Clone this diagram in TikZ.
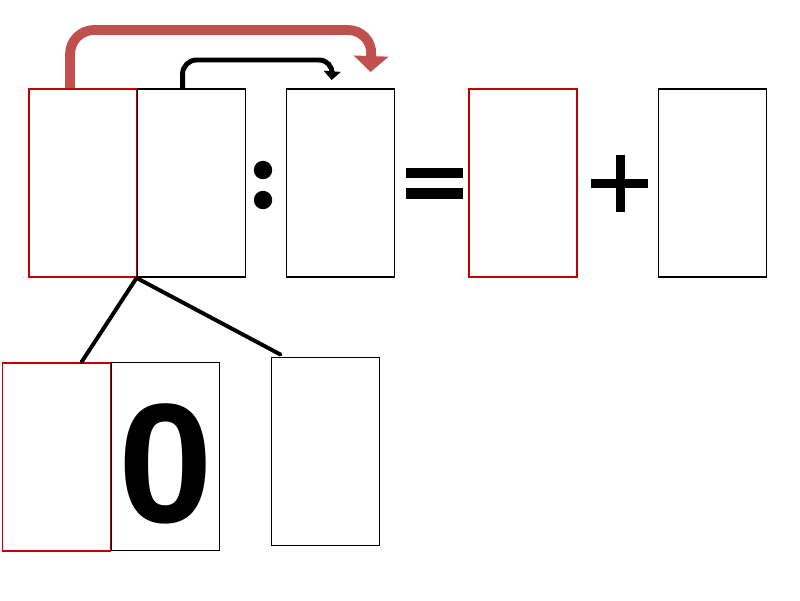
\documentclass[tikz,border=0pt]{standalone}
\usepackage{fontspec}
\setmainfont{Liberation Sans}
\usepackage{tikz}
\usetikzlibrary{arrows.meta,positioning,calc}
\usepackage{xcolor}
\definecolor{boxred}{RGB}{192,0,0}
\definecolor{arrowred}{RGB}{192,80,77}

\begin{document}
\begin{tikzpicture}[x=0.025cm, y=-0.025cm,
    digitbox/.style={draw, line width=1.3pt, minimum width=2.7cm, minimum height=4.7cm, inner sep=0pt},
    redbox/.style={digitbox, draw=boxred},
    branch/.style={line width=2.8pt, line cap=round}]
    \useasboundingbox (0,0) rectangle (800,600);

    % --- Top row: division ---
    \node[redbox]   (A) at (83,183) {};
    \node[digitbox] (B) at (191.5,183) {};
    \node[digitbox] (C) at (340.5,183) {};
    \node[redbox]   (D) at (523,183) {};
    \node[digitbox] (E) at (712.5,183) {};
    % colon
    \fill (263,170) circle (0.23cm);
    \fill (263,200) circle (0.23cm);
    % equals
    \fill (406,168) rectangle (463,178);
    \fill (406,188) rectangle (463,199);
    % plus
    \fill (591,178.5) rectangle (648,187.5);
    \fill (615.5,155) rectangle (624.5,212);

    % --- Arrows over the top row ---
    \draw[arrowred, line width=7pt, rounded corners=0.6cm,
          -{Triangle[width=0.85cm, length=0.4cm]}]
        ($(A.north west)+(42,0)$) |- (372,30) -- ($(C.north west)+(85,-16)$);
    \draw[line width=3.5pt, rounded corners=0.35cm,
          -{Triangle[width=0.42cm, length=0.22cm]}]
        ($(B.north west)+(46,0)$) |- (333,60) -- ($(C.north west)+(46,-8)$);

    % --- Bottom row: split of the first digits ---
    \node[redbox]   (F) at (56.5,457) {};
    \node[digitbox] (G) at (165.5,456.5) {};
    \node[digitbox] (H) at (325.5,451.5) {};
    \node[font=\fontsize{121}{121}\selectfont\bfseries, inner sep=0pt] (zero) at (166,464) {0};

    \draw[branch] (B.south west) -- ($(F.north west)+(80,0)$);
    \draw[branch] (B.south west) -- ($(H.north west)+(10,-2)$);
\end{tikzpicture}
\end{document}
